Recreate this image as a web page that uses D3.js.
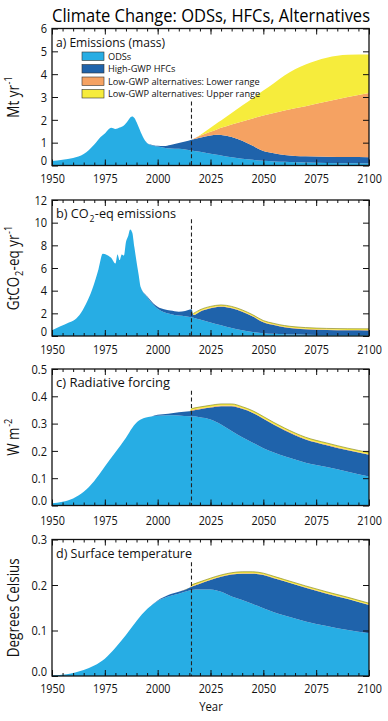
<!DOCTYPE html>
<html>
<head>
<meta charset="utf-8">
<script src="https://cdn.jsdelivr.net/npm/d3@7"></script>
<style>
  body { margin: 0; background: #fff; }
  svg { display: block; font-family: "Open Sans", sans-serif; }
</style>
</head>
<body>
<svg id="chart" width="388" height="721"></svg>
<script>
// ---------- data ----------
const xTicks = [1950, 1975, 2000, 2025, 2050, 2075, 2100];
const legendLabels = ["ODSs", "High-GWP HFCs", "Low-GWP alternatives: Lower range", "Low-GWP alternatives: Upper range"];

// a) Emissions (mass), Mt/yr
const yearsA = [1950,1955,1960,1965,1970,1973,1975,1978,1980,1982,1984,1986,1987,1988,1989,1990,1992,1994,1996,1998,
  2000,2003,2006,2010,2013,2016,2020,2025,2028,2030,2035,2040,2045,2050,2055,2060,2070,2080,2090,2100];
const odsA = [0.2,0.25,0.33,0.5,0.92,1.25,1.4,1.65,1.6,1.66,1.75,1.97,2.1,2.15,2.08,1.9,1.46,1.1,0.92,0.87,
  0.83,0.78,0.75,0.73,0.7,0.66,0.6,0.52,0.47,0.44,0.36,0.3,0.25,0.21,0.18,0.16,0.13,0.11,0.1,0.09];
const hfcA = [0,0,0,0,0,0,0,0,0,0,0,0,0,0,0,0,0,0,0.01,0.02,
  0.03,0.07,0.15,0.25,0.35,0.47,0.62,0.79,0.88,0.9,0.89,0.78,0.61,0.43,0.36,0.3,0.27,0.27,0.27,0.27];
const lowLoA = [0,0,0,0,0,0,0,0,0,0,0,0,0,0,0,0,0,0,0,0,
  0,0,0,0,0,0,0.08,0.17,0.23,0.31,0.55,0.85,1.2,1.55,1.76,1.95,2.2,2.42,2.63,2.82];
const lowHiA = [0,0,0,0,0,0,0,0,0,0,0,0,0,0,0,0,0,0,0,0,
  0,0,0,0,0,0,0.03,0.17,0.27,0.32,0.5,0.7,0.89,1.09,1.3,1.53,1.82,1.92,1.85,1.68];
const yTicksA = [0, 1, 2, 3, 4, 5, 6];

// b) CO2-eq emissions, GtCO2-eq/yr
const yearsB = [1950,1954,1958,1960,1963,1966,1969,1972,1974,1976,1978,1980,1981,1982,1983,1984,1985,1986,1987,1988,
  1989,1991,1992,1995,1998,2000,2003,2006,2010,2013,2016,2017,2020,2025,2030,2035,2040,2045,2050,2055,
  2060,2065,2070,2080,2090,2100];
const odsB = [0.5,0.85,1.2,1.35,1.85,2.8,4.1,5.9,7.25,7.15,6.9,6.4,7.2,6.7,7.2,7.1,8.3,8.8,9.4,9.1,
  7.8,5.4,4.3,3.45,2.75,2.4,2.1,1.95,1.8,1.75,1.65,1.62,1.45,1.2,0.95,0.7,0.5,0.35,0.25,0.19,
  0.15,0.13,0.11,0.09,0.08,0.07];
const hfcB = [0,0,0,0,0,0,0,0,0,0,0,0,0,0,0,0,0,0,0,0,
  0,0,0,0.05,0.12,0.18,0.25,0.3,0.35,0.45,0.7,0.23,0.7,1.25,1.63,1.75,1.65,1.37,0.97,0.78,
  0.63,0.54,0.49,0.44,0.42,0.42];
const lowLoB = [0,0,0,0,0,0,0,0,0,0,0,0,0,0,0,0,0,0,0,0,
  0,0,0,0,0,0,0,0,0,0,0,0.04,0.04,0.04,0.04,0.04,0.04,0.04,0.04,0.04,
  0.04,0.04,0.04,0.04,0.04,0.04];
const lowHiB = [0,0,0,0,0,0,0,0,0,0,0,0,0,0,0,0,0,0,0,0,
  0,0,0,0,0,0,0,0,0,0,0,0.11,0.12,0.12,0.12,0.12,0.11,0.11,0.1,0.1,
  0.1,0.1,0.1,0.1,0.1,0.1];
const yTicksB = [0, 2, 4, 6, 8, 10, 12];

// c) Radiative forcing, W/m2
const yearsC = [1950,1955,1960,1965,1970,1975,1980,1985,1988,1991,1994,1997,2000,2005,2010,2015,2016,
  2020,2025,2030,2035,2040,2045,2050,2055,2060,2070,2080,2090,2100];
const odsC = [0.008,0.014,0.026,0.05,0.09,0.143,0.195,0.248,0.285,0.31,0.321,0.326,0.329,0.331,0.33,0.327,0.327,
  0.323,0.315,0.297,0.273,0.25,0.23,0.21,0.194,0.18,0.157,0.141,0.124,0.106];
const hfcC = [0,0,0,0,0,0,0,0,0,0,0,0,0.003,0.005,0.012,0.018,0.02,
  0.03,0.044,0.067,0.091,0.104,0.109,0.108,0.102,0.096,0.085,0.08,0.078,0.08];
const lowLoC = [0,0,0,0,0,0,0,0,0,0,0,0,0,0,0,0,0.002,
  0.002,0.002,0.002,0.002,0.002,0.002,0.002,0.002,0.002,0.002,0.002,0.002,0.002];
const lowHiC = [0,0,0,0,0,0,0,0,0,0,0,0,0,0,0,0,0.006,
  0.006,0.006,0.006,0.006,0.006,0.006,0.006,0.006,0.006,0.006,0.006,0.006,0.006];
const yTicksC = [0, 0.1, 0.2, 0.3, 0.4, 0.5];

// d) Surface temperature, degrees C
const yearsD = [1950,1957,1965,1970,1975,1980,1985,1990,1995,2000,2005,2010,2015,2016,
  2020,2025,2030,2035,2040,2045,2050,2055,2060,2070,2080,2090,2100];
const odsD = [0.0015,0.004,0.013,0.023,0.038,0.062,0.09,0.121,0.147,0.165,0.175,0.181,0.188,0.189,
  0.19,0.19,0.185,0.175,0.167,0.158,0.149,0.14,0.133,0.12,0.11,0.101,0.094];
const hfcD = [0,0,0,0,0,0,0,0,0,0.001,0.003,0.004,0.006,0.007,
  0.013,0.021,0.033,0.048,0.058,0.067,0.073,0.075,0.075,0.074,0.071,0.068,0.062];
const lowLoD = [0,0,0,0,0,0,0,0,0,0,0,0,0,0.001,
  0.001,0.001,0.001,0.001,0.001,0.001,0.001,0.001,0.001,0.001,0.001,0.001,0.001];
const lowHiD = [0,0,0,0,0,0,0,0,0,0,0,0,0,0.003,
  0.003,0.003,0.003,0.003,0.003,0.003,0.003,0.003,0.003,0.003,0.003,0.003,0.003];
const yTicksD = [0, 0.1, 0.2, 0.3];

// year of the dashed "present day" line
const presentYear = 2016;

// ---------- setup ----------
const keys = ["ods", "hfc", "lowLo", "lowHi"];
const color = { ods: "#27ade4", hfc: "#1f63ab", lowLo: "#f5a262", lowHi: "#f6ec3c" };

const panels = [
  { id: "a", top: 28.5, bottom: 165.5, years: yearsA, ods: odsA, hfc: hfcA, lowLo: lowLoA, lowHi: lowHiA,
    yTicks: yTicksA, fmt: d3.format("d"), dashTop: 2.8, outline: false, labPad: 8,
    title: [["a) Emissions (mass)"]], titleW: 109, ylab: [["Mt yr"], ["-1", "sup"]] },
  { id: "b", top: 200, bottom: 336, years: yearsB, ods: odsB, hfc: hfcB, lowLo: lowLoB, lowHi: lowHiB,
    yTicks: yTicksB, fmt: d3.format("d"), dashTop: 10.3, outline: true, labPad: 9,
    title: [["b) CO"], ["2", "sub"], ["-eq emissions"]], titleW: 120, ylab: [["GtCO"], ["2", "sub"], ["-eq yr"], ["-1", "sup"]] },
  { id: "c", top: 369, bottom: 505.5, years: yearsC, ods: odsC, hfc: hfcC, lowLo: lowLoC, lowHi: lowHiC,
    yTicks: yTicksC, fmt: d3.format(".1f"), dashTop: 0.42, outline: true, labPad: 10,
    title: [["c) Radiative forcing"]], titleW: 114, ylab: [["W m"], ["-2", "sup"]] },
  { id: "d", top: 539.5, bottom: 676, years: yearsD, ods: odsD, hfc: hfcD, lowLo: lowLoD, lowHi: lowHiD,
    yTicks: yTicksD, fmt: d3.format(".1f"), dashTop: 0.25, outline: true, labPad: 8,
    title: [["d) Surface temperature"]], titleW: 136, ylab: [["Degrees Celsius"]] }
];

const svg = d3.select("#chart");
const x = d3.scaleLinear().domain([1950, 2100]).range([52, 369]);
const xMinor = d3.range(1950, 2101, 5);

// narrow the text horizontally around its own x (the original uses a condensed face)
function squeeze(sel, k) {
  sel.each(function () {
    const t = d3.select(this);
    const tx = +t.attr("x") || 0;
    t.attr("transform", `translate(${tx * (1 - k)},0) scale(${k},1)`);
  });
}

function addRuns(text, runs, size) {
  let shift = 0;
  runs.forEach(([s, kind]) => {
    const ts = text.append("tspan").text(s);
    if (kind === "sup") {
      ts.attr("font-size", size * 0.68).attr("dy", -size * 0.42 - shift).attr("dx", 0.8);
      shift = -size * 0.42;
    } else if (kind === "sub") {
      ts.attr("font-size", size * 0.68).attr("dy", size * 0.28 - shift).attr("dx", 0.8);
      shift = size * 0.28;
    } else if (shift !== 0) {
      ts.attr("dy", -shift).attr("dx", 0.5);
      shift = 0;
    }
  });
}

svg.append("text")
  .attr("x", 211).attr("y", 22.5)
  .attr("text-anchor", "middle")
  .attr("font-size", 18.5)
  .attr("textLength", 318 / 0.84).attr("lengthAdjust", "spacingAndGlyphs")
  .text("Climate Change: ODSs, HFCs, Alternatives")
  .call(squeeze, 0.84);

panels.forEach(p => {
  const y = d3.scaleLinear().domain([0, d3.max(p.yTicks)]).range([p.bottom, p.top]);
  const g = svg.append("g");

  const clipId = "clip-" + p.id;
  svg.append("clipPath").attr("id", clipId)
    .append("rect").attr("x", x(1950)).attr("y", p.top)
    .attr("width", x(2100) - x(1950)).attr("height", p.bottom - p.top);

  const rows = p.years.map((yr, i) => ({
    year: yr, ods: p.ods[i], hfc: p.hfc[i], lowLo: p.lowLo[i], lowHi: p.lowHi[i]
  }));
  const series = d3.stack().keys(keys)(rows);

  const area = d3.area()
    .curve(d3.curveMonotoneX)
    .x(d => x(d.data.year))
    .y0(d => y(d[0]))
    .y1(d => y(d[1]));

  const plot = g.append("g").attr("clip-path", `url(#${clipId})`);
  plot.selectAll("path.layer")
    .data(series)
    .join("path")
    .attr("class", "layer")
    .attr("fill", d => color[d.key])
    .attr("d", area);

  if (p.outline) {
    const top = series[3];
    const line = d3.line()
      .curve(d3.curveMonotoneX)
      .defined((d, i) => d[1] - series[1][i][1] > 0)
      .x(d => x(d.data.year))
      .y(d => y(d[1]));
    plot.append("path").attr("d", line(top))
      .attr("fill", "none").attr("stroke", "#8c8a2c").attr("stroke-width", 0.7);
  }

  // present-day dashed line
  g.append("line")
    .attr("x1", x(presentYear)).attr("x2", x(presentYear))
    .attr("y1", y(p.dashTop)).attr("y2", p.bottom)
    .attr("stroke", "#222").attr("stroke-width", 1.1)
    .attr("stroke-dasharray", "4,2.6");

  // axes with inward ticks
  const bx = g.append("g").attr("transform", `translate(0,${p.bottom})`)
    .call(d3.axisBottom(x).tickValues(xTicks).tickSize(-6).tickPadding(p.labPad).tickFormat(d3.format("d")));
  g.append("g").attr("transform", `translate(0,${p.bottom})`)
    .call(d3.axisBottom(x).tickValues(xMinor).tickSize(-3).tickFormat(""));
  g.append("g").attr("transform", `translate(0,${p.top})`)
    .call(d3.axisTop(x).tickValues(xTicks).tickSize(-6).tickFormat(""));
  g.append("g").attr("transform", `translate(0,${p.top})`)
    .call(d3.axisTop(x).tickValues(xMinor).tickSize(-3).tickFormat(""));
  const ly = g.append("g").attr("transform", `translate(${x(1950)},0)`)
    .call(d3.axisLeft(y).tickValues(p.yTicks).tickSize(-6).tickPadding(5).tickFormat(p.fmt));
  g.append("g").attr("transform", `translate(${x(2100)},0)`)
    .call(d3.axisRight(y).tickValues(p.yTicks).tickSize(-6).tickFormat(""));

  g.selectAll(".domain").remove();
  g.selectAll(".tick line").attr("stroke", "#111").attr("stroke-width", 1);
  [bx, ly].forEach(a => a.selectAll("text")
    .attr("font-family", "Open Sans").attr("font-size", 13).attr("fill", "#111"));
  ly.selectAll(".tick").filter(d => d === 0).select("text").attr("dy", "-0.05em");
  squeeze(bx.selectAll("text"), 0.83);
  squeeze(ly.selectAll("text"), 0.85);

  // frame
  g.append("rect")
    .attr("x", x(1950)).attr("y", p.top)
    .attr("width", x(2100) - x(1950)).attr("height", p.bottom - p.top)
    .attr("fill", "none").attr("stroke", "#111").attr("stroke-width", 1.3);

  // panel title
  const t = g.append("text")
    .attr("x", 56).attr("y", p.top + 18)
    .attr("font-size", 13.5).attr("fill", "#111")
    .attr("textLength", p.titleW).attr("lengthAdjust", "spacingAndGlyphs");
  addRuns(t, p.title, 13.5);

  // y axis label (rotated, narrowed along its length)
  const yl = svg.append("text")
    .attr("transform", `translate(19,${(p.top + p.bottom) / 2}) rotate(-90) scale(0.84,1)`)
    .attr("text-anchor", "middle")
    .attr("font-size", 16).attr("fill", "#111");
  addRuns(yl, p.ylab, 16);

  // legend in panel a
  if (p.id === "a") {
    const lg = g.append("g");
    legendLabels.forEach((lab, i) => {
      const yy = 52 + i * 12.5;
      lg.append("rect")
        .attr("x", 82).attr("y", yy).attr("width", 22).attr("height", 8.5)
        .attr("fill", color[keys[i]]).attr("stroke", "#333").attr("stroke-width", 0.6);
      lg.append("text")
        .attr("x", 108).attr("y", yy + 7.6)
        .attr("font-size", 9.2).attr("fill", "#111")
        .text(lab);
    });
  }
});

svg.append("text")
  .attr("x", 211).attr("y", 711)
  .attr("text-anchor", "middle")
  .attr("font-size", 13.5).attr("fill", "#111")
  .text("Year")
  .call(squeeze, 0.84);
</script>
</body>
</html>
